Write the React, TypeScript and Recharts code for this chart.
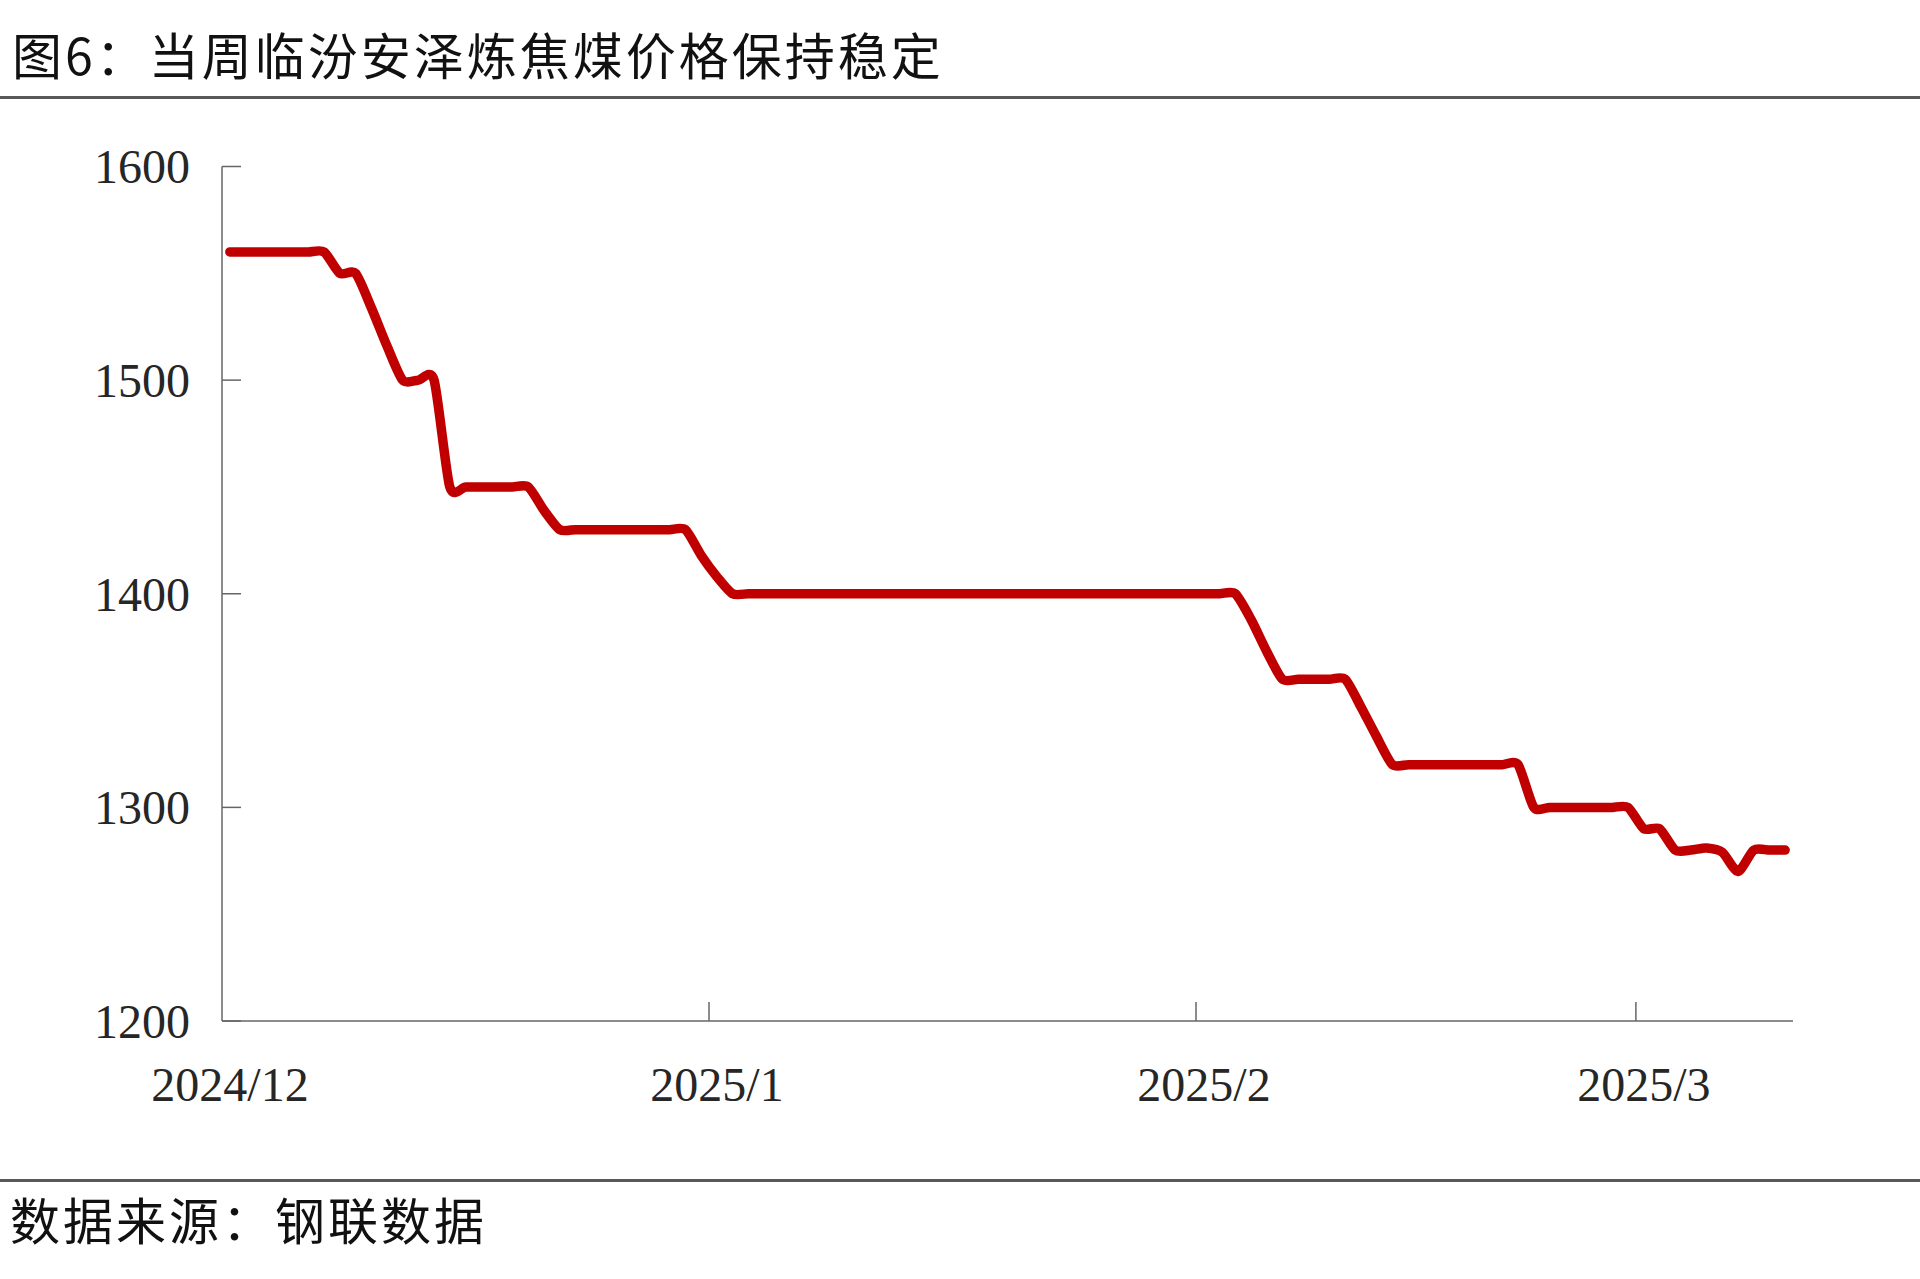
import React from 'react';
import { Line, LineChart, XAxis, YAxis } from 'recharts';

// daily price, 2024-12-01 .. 2025-03-10 (元/吨)
const startDate = '2024-12-01';
const prices = [
  1560, 1560, 1560, 1560, 1560, 1560, 1560, 1550, 1550, 1534,
  1516, 1500, 1500, 1500, 1450, 1450, 1450, 1450, 1450, 1450,
  1439, 1430, 1430, 1430, 1430, 1430, 1430, 1430, 1430, 1430,
  1418, 1408, 1400, 1400, 1400, 1400, 1400, 1400, 1400, 1400,
  1400, 1400, 1400, 1400, 1400, 1400, 1400, 1400, 1400, 1400,
  1400, 1400, 1400, 1400, 1400, 1400, 1400, 1400, 1400, 1400,
  1400, 1400, 1400, 1400, 1400, 1388, 1373, 1360, 1360, 1360,
  1360, 1360, 1347, 1333, 1320, 1320, 1320, 1320, 1320, 1320,
  1320, 1320, 1320, 1300, 1300, 1300, 1300, 1300, 1300, 1300,
  1290, 1290, 1280, 1280, 1281, 1279, 1270, 1280, 1280, 1280,
];

const monthStarts = ['2024-12-01', '2025-01-01', '2025-02-01', '2025-03-01'];
const monthLabels = ['2024/12', '2025/1', '2025/2', '2025/3'];
const axisEnd = '2025-03-11';
const yTicks = [1200, 1300, 1400, 1500, 1600];

const DAY = 86400000;
const dayOf = (s: string) => (Date.parse(s) - Date.parse(startDate)) / DAY;

// each value sits in the middle of its day slot
const data = prices.map((v, i) => ({ day: i + 0.5, price: v }));
const xTicks = monthStarts.map(dayOf);

const AXIS = '#666666';
const LABEL = '#262626';
const serif = '"Liberation Serif", "Times New Roman", serif';
const cjk = '"Noto Sans CJK SC", sans-serif';

// smoothed line like Excel's: catmull-rom beziers with shorter tangents
const K = 8.5;
const excelSmooth = (context: any) => {
  let xs: number[] = [];
  let ys: number[] = [];
  return {
    areaStart() {},
    areaEnd() {},
    lineStart() {
      xs = [];
      ys = [];
    },
    point(x: number, y: number) {
      xs.push(+x);
      ys.push(+y);
    },
    lineEnd() {
      const n = xs.length;
      if (!n) return;
      context.moveTo(xs[0], ys[0]);
      for (let i = 0; i < n - 1; i++) {
        const a = Math.max(i - 1, 0);
        const d = Math.min(i + 2, n - 1);
        context.bezierCurveTo(
          xs[i] + (xs[i + 1] - xs[a]) / K,
          ys[i] + (ys[i + 1] - ys[a]) / K,
          xs[i + 1] - (xs[d] - xs[i]) / K,
          ys[i + 1] - (ys[d] - ys[i]) / K,
          xs[i + 1],
          ys[i + 1],
        );
      }
    },
  };
};

const YTick = (props: any) => {
  const { x, y, payload } = props;
  return (
    <g>
      <line x1={x} y1={y} x2={x + 19} y2={y} stroke={AXIS} strokeWidth={1.5} />
      <text x={x - 32} y={y} dy="0.35em" textAnchor="end" fontFamily={serif} fontSize={48} fill={LABEL}>
        {payload.value}
      </text>
    </g>
  );
};

const XTick = (props: any) => {
  const { x, y, payload, index } = props;
  return (
    <g>
      {index > 0 && <line x1={x} y1={y} x2={x} y2={y - 19} stroke={AXIS} strokeWidth={1.5} />}
      <text x={x + 8} y={y + 80} textAnchor="middle" fontFamily={serif} fontSize={48} fill={LABEL}>
        {monthLabels[xTicks.indexOf(payload.value)]}
      </text>
    </g>
  );
};

const rule: React.CSSProperties = {
  position: 'absolute',
  left: 0,
  width: 1920,
  height: 3,
  background: '#595959',
};

const App = () => {
  return (
    <div style={{ position: 'absolute', left: 0, top: 0, width: 1920, height: 1279, background: '#fff' }}>
      <div
        style={{
          position: 'absolute',
          left: 12,
          top: 28,
          lineHeight: '50px',
          fontFamily: cjk,
          fontSize: 50,
          letterSpacing: 3,
          color: '#111',
          whiteSpace: 'nowrap',
        }}
      >
        图6：当周临汾安泽炼焦煤价格保持稳定
      </div>
      <div style={{ ...rule, top: 96 }} />

      <div style={{ position: 'absolute', left: 0, top: 0 }}>
        <LineChart
          width={1920}
          height={1279}
          data={data}
          margin={{ top: 166.5, right: 127, bottom: 168, left: 142 }}
        >
          <XAxis
            type="number"
            dataKey="day"
            domain={[0, dayOf(axisEnd)]}
            ticks={xTicks}
            height={90}
            tickSize={0}
            tickMargin={0}
            tickLine={false}
            axisLine={{ stroke: AXIS, strokeWidth: 1.5 }}
            tick={XTick}
            allowDataOverflow
          />
          <YAxis
            domain={[1200, 1600]}
            ticks={yTicks}
            width={80}
            tickSize={0}
            tickMargin={0}
            tickLine={false}
            axisLine={{ stroke: AXIS, strokeWidth: 1.5 }}
            tick={YTick}
            allowDataOverflow
          />
          <Line
            type={excelSmooth as any}
            dataKey="price"
            stroke="#C00000"
            strokeWidth={9.5}
            strokeLinecap="round"
            strokeLinejoin="round"
            dot={false}
            activeDot={false}
            isAnimationActive={false}
          />
        </LineChart>
      </div>

      <div style={{ ...rule, top: 1178.5 }} />
      <div
        style={{
          position: 'absolute',
          left: 10,
          top: 1193,
          lineHeight: '50px',
          fontFamily: cjk,
          fontSize: 50,
          letterSpacing: 3,
          color: '#111',
          whiteSpace: 'nowrap',
        }}
      >
        数据来源：钢联数据
      </div>
    </div>
  );
};

export default App;
